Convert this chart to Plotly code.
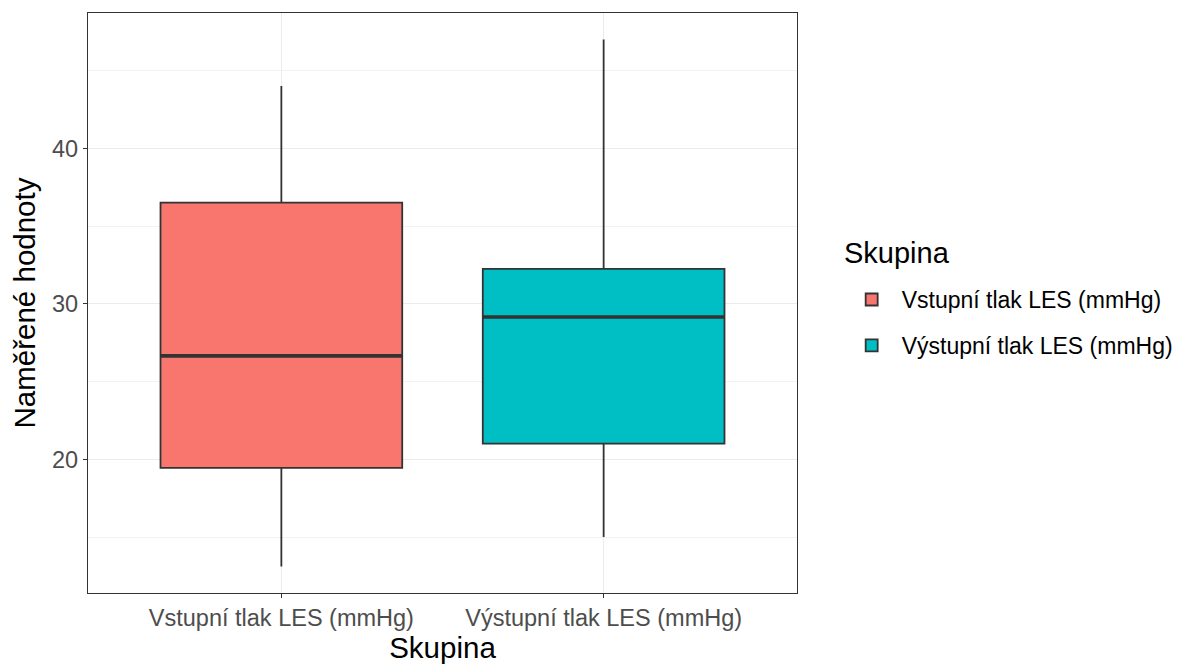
import plotly.graph_objects as go

categories = ["Vstupní tlak LES (mmHg)", "Výstupní tlak LES (mmHg)"]
colors = ["#F8766D", "#00BFC4"]
lower_whisker = [13.1, 15.0]
q1_vals = [19.45, 21.0]
medians = [26.65, 29.15]
q3_vals = [36.5, 32.25]
upper_whisker = [44.0, 47.0]
y_ticks = [20, 30, 40]
legend_title = "Skupina"

fig = go.Figure()
for i, cat in enumerate(categories):
    fig.add_trace(go.Box(
        x=[cat], name=cat, legendgroup=cat,
        q1=[q1_vals[i]], median=[medians[i]], q3=[q3_vals[i]],
        lowerfence=[lower_whisker[i]], upperfence=[upper_whisker[i]],
        fillcolor=colors[i], line=dict(color="#333333", width=1.8),
        whiskerwidth=0, width=0.75, boxpoints=False, hoverinfo="skip",
    ))
# thicker median line (ggplot fatten)
for i, cat in enumerate(categories):
    fig.add_trace(go.Box(
        x=[cat], name=cat, legendgroup=cat,
        q1=[medians[i]], median=[medians[i]], q3=[medians[i]],
        lowerfence=[medians[i]], upperfence=[medians[i]],
        fillcolor="rgba(0,0,0,0)", line=dict(color="#333333", width=3.6),
        whiskerwidth=0, width=0.75, boxpoints=False, showlegend=False, hoverinfo="skip",
    ))

fig.add_annotation(
    text=legend_title, xref="paper", yref="paper", x=1.063, y=0.586,
    xanchor="left", yanchor="middle", showarrow=False,
    font=dict(size=29, color="black"),
)

fig.update_layout(
    width=1181, height=664,
    margin=dict(l=80, r=392, t=5, b=79),
    paper_bgcolor="white", plot_bgcolor="white",
    font=dict(family="Liberation Sans, Arial, sans-serif", color="black"),
    boxmode="overlay",
    legend=dict(
        font=dict(size=23, color="black"),
        x=1.063, xanchor="left", y=0.543, yanchor="top",
        tracegroupgap=13, itemwidth=50,
    ),
    xaxis=dict(
        title=dict(text="Skupina", font=dict(size=29.5, color="black"), standoff=5),
        type="category", range=[-0.6, 1.6],
        showgrid=True, gridcolor="#EBEBEB", gridwidth=1.1,
        showline=True, mirror=True, linecolor="#333333", linewidth=1.2,
        ticks="outside", ticklen=4, tickcolor="#333333", tickwidth=1.1,
        tickfont=dict(size=23.5, color="#4D4D4D"), zeroline=False,
    ),
    yaxis=dict(
        title=dict(text="Naměřené hodnoty", font=dict(size=29.5, color="black"), standoff=10),
        range=[11.4, 48.7], tickvals=y_ticks,
        showgrid=True, gridcolor="#EBEBEB", gridwidth=1.1,
        minor=dict(dtick=5, tick0=0, showgrid=True, gridcolor="#F2F2F2", gridwidth=0.6, ticks=""),
        showline=True, mirror=True, linecolor="#333333", linewidth=1.2,
        ticks="outside", ticklen=4, tickcolor="#333333", tickwidth=1.1,
        tickfont=dict(size=23.5, color="#4D4D4D"), zeroline=False,
    ),
)

fig.write_html("out.html")
